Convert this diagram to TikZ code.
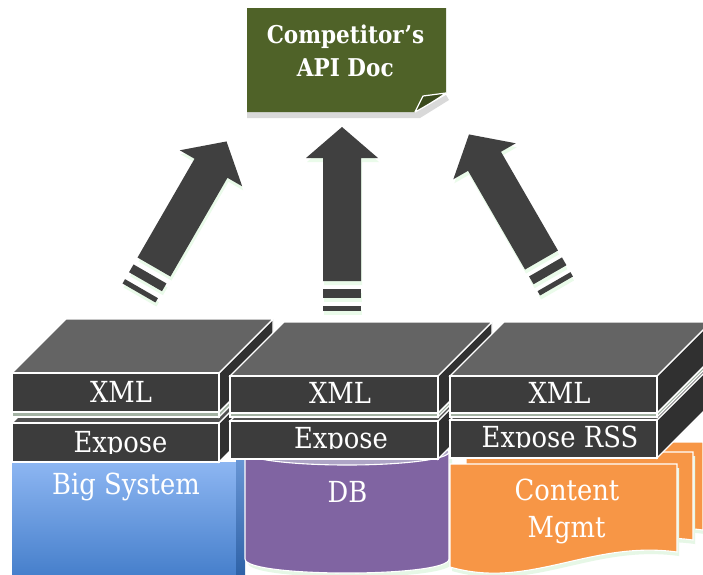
\documentclass[tikz,border=0pt]{standalone}
\usepackage{fontspec}
\setmainfont{DejaVu Serif}
\newfontfamily\lblfont[FakeStretch=0.89]{DejaVu Serif}
\newfontfamily\ttlfont[FakeStretch=0.88]{DejaVu Serif}
\definecolor{topc}{HTML}{646464}
\definecolor{frontc}{HTML}{3C3C3C}
\definecolor{sidec}{HTML}{303030}
\definecolor{platec}{HTML}{A3B2A3}
\definecolor{docgreen}{HTML}{4F6228}
\definecolor{flapgreen}{HTML}{3B4A1D}
\definecolor{arrowc}{HTML}{404040}
\definecolor{ashadow}{HTML}{EAFBEA}
\definecolor{orangec}{HTML}{F79646}
\definecolor{dbc}{HTML}{8064A2}
\definecolor{dbtop}{HTML}{AEA5C6}
\definecolor{bstop}{HTML}{8DB6F2}
\definecolor{bsbot}{HTML}{4780CC}
\definecolor{bstrip}{HTML}{2F63A8}
\definecolor{gshadow}{HTML}{E6F7E6}
\newcommand\cubo[7]{%
  \filldraw[edge, fill=#6] (#3,#2) -- ++(54,-54) -- ++(0,#4-#2) -- (#3,#4) -- cycle;
  \filldraw[edge, fill=#7] (#1,#2) -- ++(54,-54) -- ++(#3-#1,0) -- (#3,#2) -- cycle;
  \filldraw[edge, fill=#5] (#1,#2) rectangle (#3,#4);}
\newcommand\arrowbody[2]{%
  \fill[#2] (-19,0) -- (-19,{31-#1}) -- (-36,{31-#1}) -- (0,-#1) -- (36,{31-#1}) -- (19,{31-#1}) -- (19,0) -- cycle;
  \fill[#2] (-19,8) rectangle (19,17);
  \fill[#2] (-19,25) rectangle (19,30);}
\newcommand\upArrow[4]{%
  \begin{scope}[shift={(#1+1,#2+4)}, rotate=#3]\arrowbody{#4}{ashadow}\end{scope}
  \begin{scope}[shift={(#1,#2)}, rotate=#3]\arrowbody{#4}{arrowc}\end{scope}}
\newcommand\docshape[3]{%
  \fill[gshadow, shift={(#1+2,#2+4)}] (450,464) -- (677,464) -- (677,552) .. controls (590,540) and (530,590) .. (450,567) -- cycle;
  \filldraw[draw=white, line width=1.1pt, fill=#3, shift={(#1,#2)}] (450,464) -- (677,464) -- (677,552) .. controls (590,540) and (530,590) .. (450,567) -- cycle;}
\begin{document}
\begin{tikzpicture}[x=1pt,y=-1pt,
  edge/.style={draw=white, line width=1.1pt, line join=miter},
  lbl/.style={text=white, font=\lblfont\fontsize{29}{34}\selectfont, inner sep=0pt},
  ttl/.style={text=white, font=\ttlfont\bfseries\fontsize{24.5}{29}\selectfont, inner sep=0pt}]
\useasboundingbox (0,0) rectangle (703,574);
\clip (0,0) rectangle (703,574);
\fill[white] (0,0) rectangle (703,574);

% ---- competitor doc ----
\fill[black!15] (247,112) -- (416,112) -- (446,95) -- (449,100) -- (420,118) -- (247,118) -- cycle;
\fill[docgreen] (247,8) -- (446,8) -- (446,93) -- (423,96) -- (415,112) -- (247,112) -- cycle;
\filldraw[fill=flapgreen, draw=white, line width=1.2pt, line join=round] (423,96) -- (446,93) .. controls (436,100) and (426,106) .. (415,112) -- cycle;
\node[ttl, anchor=base] (c1) at (345.5,43.3) {Competitor’s};
\node[ttl, anchor=base] (c2) at (345.3,76.7) {API Doc};

% ---- arrows ----
\upArrow{154}{267}{-30}{145}
\upArrow{342}{281}{0}{154}
\upArrow{541.5}{260}{30}{145}

% ---- bottoms ----
\fill[top color=bstop, bottom color=bsbot] (12,462) rectangle (237,574);
\fill[top color=bstop!60!bstrip, bottom color=bstrip] (236,460) rectangle (245,574);
% DB cylinder
\fill[gshadow] (248,455) -- (248,563) .. controls (248,581.7) and (452,581.7) .. (452,563) -- (452,455) -- cycle;
\filldraw[edge, fill=dbc] (245,452) -- (245,559) .. controls (245,577.7) and (449,577.7) .. (449,559) -- (449,452) -- cycle;
\filldraw[edge, fill=dbtop] (347,452) ellipse [x radius=102, y radius=13];
% content docs
\docshape{26}{-22}{orangec}
\docshape{16}{-12}{orangec}
\docshape{0}{0}{orangec}

% ---- stacks ----
% column 1
\cubo{12}{423}{219}{462}{frontc}{sidec}{black!68}
\cubo{12}{412}{219}{417}{platec}{platec}{platec}
\cubo{12}{373}{219}{412}{frontc}{sidec}{topc}
% column 2
\cubo{230}{421}{438}{459}{frontc}{sidec}{black!68}
\cubo{230}{413}{438}{417}{platec}{platec}{platec}
\cubo{230}{376}{438}{413}{frontc}{sidec}{topc}
% column 3
\cubo{450}{420}{657}{458}{frontc}{sidec}{black!68}
\cubo{450}{413}{657}{417}{platec}{platec}{platec}
\cubo{450}{376}{657}{413}{frontc}{sidec}{topc}

% ---- labels ----
\node[lbl, anchor=base] (x1) at (121,402.7) {XML};
\node[lbl, anchor=base] (x2) at (340,403.3) {XML};
\node[lbl, anchor=base] (x3) at (559.5,403.3) {XML};
\begin{scope}
  \clip (12,423) rectangle (219,453.2);
  \node[lbl, anchor=base] (e1) at (120.5,452.7) {Expose};
\end{scope}
\begin{scope}
  \clip (230,421) rectangle (438,448.6);
  \node[lbl, anchor=base] (e2) at (341,448.1) {Expose};
\end{scope}
\begin{scope}
  \clip (450,420) rectangle (657,447.6);
  \node[lbl, anchor=base] (e3) at (560,447.1) {Expose RSS};
\end{scope}
\node[lbl, anchor=base] (bs) at (126,494) {Big System};
\node[lbl, anchor=base] (db) at (347.5,502.7) {DB};
\node[lbl, anchor=base] (cm1) at (567,500) {Content};
\node[lbl, anchor=base] (cm2) at (566.5,537.7) {Mgmt};
\end{tikzpicture}
\end{document}
